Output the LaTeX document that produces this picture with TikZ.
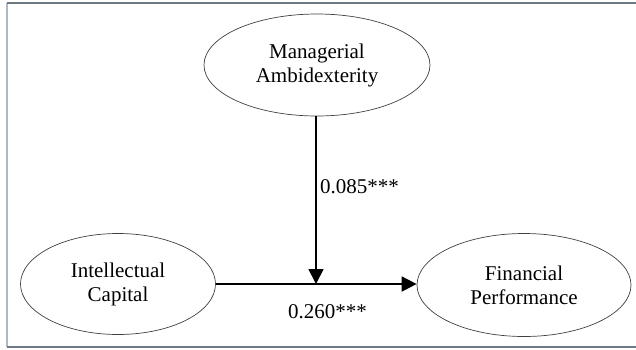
\documentclass[tikz,border=0pt]{standalone}
\usepackage{fontspec}
\setmainfont{Liberation Serif}
\usetikzlibrary{shapes.geometric,arrows.meta}
\begin{document}
\begin{tikzpicture}[x=1pt,y=-1pt,
  construct/.style={ellipse,draw=black!75,line width=0.7pt,inner sep=0pt,
    align=center,font=\fontsize{21}{24}\selectfont},
  path/.style={line width=1.8pt,-{Triangle[length=15pt,width=15pt]}},
  coef/.style={font=\fontsize{21}{24}\selectfont,inner sep=0pt,anchor=base west}]
\useasboundingbox (0,0) rectangle (636,349);
% frame
\draw[line width=1.6pt,color={rgb,255:red,176;green,184;blue,200}] (7,3) -- (7,347);
\draw[line width=1.3pt,color={rgb,255:red,110;green,120;blue,128}] (7,3) -- (636,3);
\draw[line width=1.3pt,color={rgb,255:red,110;green,120;blue,134}] (7,347) -- (636,347);
% constructs
\node[construct,minimum width=226pt,minimum height=102pt] (MA) at (317,65) {Managerial\\Ambidexterity};
\node[construct,minimum width=195pt,minimum height=101pt] (IC) at (118,284) {Intellectual\\Capital};
\node[construct,minimum width=214pt,minimum height=103pt] (FP) at (524,285) {Financial\\Performance};
% paths
\coordinate (m) at (316,284);
\draw[path] (IC.east |- m) -- (FP.west |- m);
\draw[path] (MA.south -| m) -- (m);
\node[coef] (c1) at (320,193) {0.085***};
\node[coef] (c2) at (288,318) {0.260***};
\end{tikzpicture}
\end{document}
